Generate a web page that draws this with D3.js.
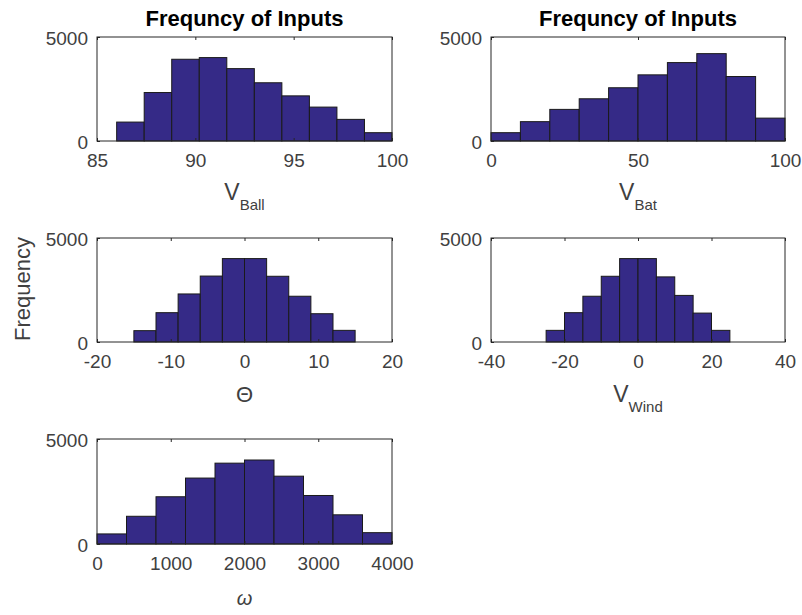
<!DOCTYPE html>
<html>
<head>
<meta charset="utf-8">
<script src="https://cdn.jsdelivr.net/npm/d3@7"></script>
<style>
  body { margin: 0; background: #fff; }
  text { font-family: "Liberation Sans", Arial, sans-serif; }
</style>
</head>
<body>
<div id="chart"></div>
<script>
// bin edges / counts
var ballEdges = [86, 87.4, 88.8, 90.2, 91.6, 93, 94.4, 95.8, 97.2, 98.6, 100];
var ballCounts = [910, 2330, 3930, 4010, 3480, 2800, 2170, 1630, 1040, 400];
var batEdges = [0, 10, 20, 30, 40, 50, 60, 70, 80, 90, 100];
var batCounts = [400, 930, 1520, 2030, 2560, 3180, 3770, 4200, 3100, 1100];
var thetaEdges = [-15, -12, -9, -6, -3, 0, 3, 6, 9, 12, 15];
var thetaCounts = [545, 1410, 2310, 3170, 4010, 4010, 3160, 2200, 1360, 560];
var windEdges = [-25, -20, -15, -10, -5, 0, 5, 10, 15, 20, 25];
var windCounts = [560, 1410, 2200, 3160, 4010, 4010, 3130, 2240, 1390, 560];
var omegaEdges = [0, 400, 800, 1200, 1600, 2000, 2400, 2800, 3200, 3600, 4000];
var omegaCounts = [480, 1320, 2250, 3140, 3850, 4000, 3230, 2310, 1390, 540];

var ballTicks = [85, 90, 95, 100];
var batTicks = [0, 50, 100];
var thetaTicks = [-20, -10, 0, 10, 20];
var windTicks = [-40, -20, 0, 20, 40];
var omegaTicks = [0, 1000, 2000, 3000, 4000];
var yTicks = [0, 5000];

var W = 802, H = 615;
var barColor = "#352a87";
var axisColor = "#262626";
var tickColor = "#404040";

var svg = d3.select("#chart").append("svg")
    .attr("width", W).attr("height", H);

function fmt(d) { return String(d); }

function panel(opt) {
  var x = d3.scaleLinear().domain(opt.xDomain).range([opt.left, opt.right]);
  var y = d3.scaleLinear().domain([0, 5000]).range([opt.bottom, opt.top]);
  var g = svg.append("g");

  var bins = opt.counts.map(function(c, i) {
    return { x0: opt.edges[i], x1: opt.edges[i + 1], n: c };
  });

  g.selectAll("rect.bar")
    .data(bins)
    .enter()
    .append("rect")
    .attr("class", "bar")
    .attr("x", function(d) { return x(d.x0); })
    .attr("y", function(d) { return y(d.n); })
    .attr("width", function(d) { return x(d.x1) - x(d.x0); })
    .attr("height", function(d) { return y(0) - y(d.n); })
    .attr("fill", barColor)
    .attr("stroke", "#1a1a1a")
    .attr("stroke-width", 1);

  // inward ticks, bottom + top, left
  var xb = d3.axisBottom(x).tickValues(opt.ticks).tickSize(-3).tickPadding(13).tickFormat(fmt);
  var xt = d3.axisTop(x).tickValues(opt.ticks).tickSize(-3).tickFormat("");
  var yl = d3.axisLeft(y).tickValues(yTicks).tickSize(-3).tickPadding(9).tickFormat(fmt);

  var gxb = g.append("g").attr("transform", "translate(0," + opt.bottom + ")").call(xb);
  var gxt = g.append("g").attr("transform", "translate(0," + opt.top + ")").call(xt);
  var gyl = g.append("g").attr("transform", "translate(" + opt.left + ",0)").call(yl);
  [gxb, gxt, gyl].forEach(function(a) {
    a.select(".domain").remove();
    a.selectAll(".tick line").attr("stroke", axisColor);
    a.selectAll(".tick text")
      .attr("fill", tickColor)
      .style("font-size", "19px")
      .style("font-family", "'Liberation Sans', Arial, sans-serif");
  });
  gyl.selectAll(".tick text").attr("dy", "0.4em");

  g.append("rect")
    .attr("x", opt.left).attr("y", opt.top)
    .attr("width", opt.right - opt.left).attr("height", opt.bottom - opt.top)
    .attr("fill", "none").attr("stroke", axisColor).attr("stroke-width", 1);

  if (opt.title) {
    g.append("text")
      .attr("x", (opt.left + opt.right) / 2).attr("y", 26)
      .attr("text-anchor", "middle")
      .style("font-size", "22px").style("font-weight", "bold")
      .attr("fill", "#000")
      .text(opt.title);
  }

  var lx = (opt.left + opt.right) / 2;
  var lab = g.append("text")
    .attr("x", lx).attr("y", opt.bottom + opt.labelDy)
    .attr("text-anchor", "middle")
    .attr("fill", tickColor);
  if (opt.sub) {
    lab.append("tspan").style("font-size", "23px").text(opt.label);
    lab.append("tspan").style("font-size", "15px").attr("dy", 10).text(opt.sub);
  } else {
    lab.style("font-size", opt.labelSize || "22px")
      .style("font-style", opt.italic ? "italic" : "normal")
      .text(opt.label);
  }
}

var L1 = 97, R1 = 392, L2 = 491, R2 = 785;

panel({ edges: ballEdges, counts: ballCounts, xDomain: [85, 100], ticks: ballTicks,
  left: L1, right: R1, top: 37, bottom: 141, title: "Frequncy of Inputs",
  label: "V", sub: "Ball", labelDy: 59 });
panel({ edges: batEdges, counts: batCounts, xDomain: [0, 100], ticks: batTicks,
  left: L2, right: R2, top: 37, bottom: 141, title: "Frequncy of Inputs",
  label: "V", sub: "Bat", labelDy: 59 });
panel({ edges: thetaEdges, counts: thetaCounts, xDomain: [-20, 20], ticks: thetaTicks,
  left: L1, right: R1, top: 238, bottom: 342, label: "\u0398", labelDy: 60 });
panel({ edges: windEdges, counts: windCounts, xDomain: [-40, 40], ticks: windTicks,
  left: L2, right: R2, top: 238, bottom: 342, label: "V", sub: "Wind", labelDy: 60 });
panel({ edges: omegaEdges, counts: omegaCounts, xDomain: [0, 4000], ticks: omegaTicks,
  left: L1, right: R1, top: 439, bottom: 544, label: "\u03C9", italic: true,
  labelSize: "20px", labelDy: 61 });

svg.append("text")
  .attr("transform", "translate(30,289) rotate(-90)")
  .attr("text-anchor", "middle")
  .attr("fill", tickColor)
  .style("font-size", "22px")
  .text("Frequency");
</script>
</body>
</html>
